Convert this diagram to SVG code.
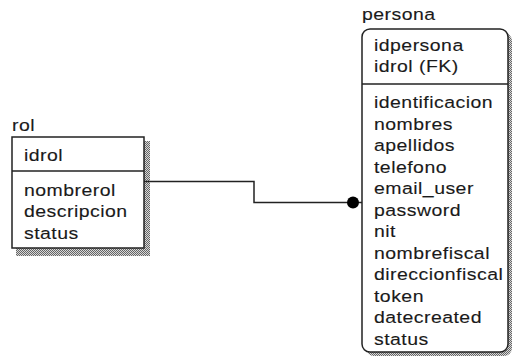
<svg xmlns="http://www.w3.org/2000/svg" width="512" height="359" viewBox="0 0 512 359">
  <defs>
    <pattern id="hatch" width="2" height="2" patternUnits="userSpaceOnUse">
      <rect width="2" height="2" fill="#d8d8d8"/>
      <rect width="1" height="1" fill="#666"/>
      <rect x="1" y="1" width="1" height="1" fill="#666"/>
    </pattern>
  </defs>
  <style>
    .box { fill: #ffffff; stroke: #222; stroke-width: 1.5; }
    .div { stroke: #222; stroke-width: 1.5; }
    .shadow { fill: url(#hatch); }
    .t { font-family: "Liberation Sans", Arial, sans-serif; font-size: 16.5px; letter-spacing: 0.4px; fill: #1a1a1a; stroke: #1a1a1a; stroke-width: 0.12; }
    .conn { fill: none; stroke: #222; stroke-width: 1.5; }
  </style>
  <rect width="512" height="359" fill="#ffffff"/>

  <g id="rol">
    <rect class="shadow" x="16" y="141" width="134" height="115"/>
    <rect class="box" x="12" y="137" width="132" height="111"/>
    <line class="div" x1="12" y1="171" x2="144" y2="171"/>
    <g transform="scale(1.18,1)">
      <text class="t" x="10.17" y="131">rol</text>
      <text class="t" x="20.34" y="161">idrol</text>
      <text class="t" x="20.34" y="196">nombrerol</text>
      <text class="t" x="20.34" y="217.5">descripcion</text>
      <text class="t" x="20.34" y="239">status</text>
    </g>
  </g>

  <g id="persona">
    <rect class="shadow" x="366" y="33" width="146" height="323" rx="8"/>
    <rect class="box" x="362" y="29" width="146" height="323" rx="8"/>
    <line class="div" x1="362" y1="84" x2="508" y2="84"/>
    <g transform="scale(1.18,1)">
      <text class="t" x="306.78" y="20">persona</text>
      <text class="t" x="316.95" y="51">idpersona</text>
      <text class="t" x="316.95" y="72.5">idrol (FK)</text>
      <text class="t" x="316.95" y="108.5">identificacion</text>
      <text class="t" x="316.95" y="130">nombres</text>
      <text class="t" x="316.95" y="151.5">apellidos</text>
      <text class="t" x="316.95" y="173">telefono</text>
      <text class="t" x="316.95" y="194.5">email_user</text>
      <text class="t" x="316.95" y="216">password</text>
      <text class="t" x="316.95" y="237.5">nit</text>
      <text class="t" x="316.95" y="259">nombrefiscal</text>
      <text class="t" x="316.95" y="280.5">direccionfiscal</text>
      <text class="t" x="316.95" y="302">token</text>
      <text class="t" x="316.95" y="323.5">datecreated</text>
      <text class="t" x="316.95" y="345">status</text>
    </g>
  </g>

  <g id="connectors">
    <path class="conn" d="M144 181.5 H254 V202.5 H362"/>
    <circle cx="353" cy="202.5" r="6" fill="#000"/>
  </g>
</svg>
